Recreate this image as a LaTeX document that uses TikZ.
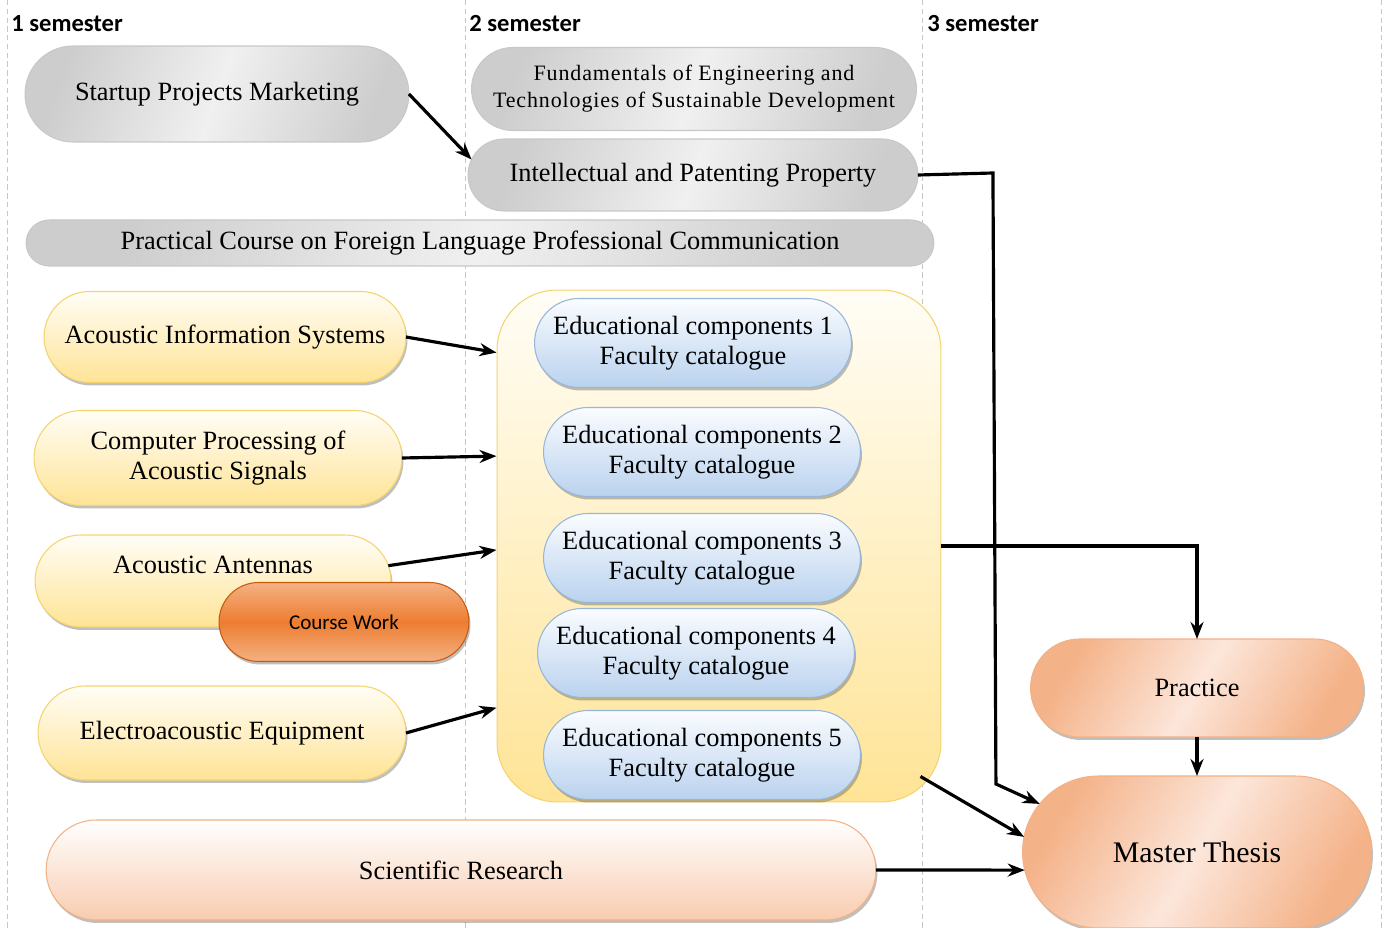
\documentclass[tikz,border=0pt]{standalone}
\usepackage{fontspec}
\setmainfont{Liberation Serif}
\newfontfamily\semfont{Carlito}
\newfontfamily\fundfont{Liberation Serif}[LetterSpace=4]
\usetikzlibrary{shapes.misc, arrows.meta, shadows}

\definecolor{grayedge}{RGB}{200,200,200}
\definecolor{graydark}{RGB}{205,205,205}
\definecolor{graylight}{RGB}{240,240,240}
\definecolor{yellowedge}{RGB}{245,212,110}
\definecolor{yellowtop}{RGB}{255,253,246}
\definecolor{yellowbot}{RGB}{255,228,150}
\definecolor{blueedge}{RGB}{150,182,220}
\definecolor{bluetop}{RGB}{250,252,255}
\definecolor{bluebot}{RGB}{186,210,238}
\definecolor{orangeedge}{RGB}{197,90,17}
\definecolor{orangemid}{RGB}{237,125,49}
\definecolor{orangelight}{RGB}{244,177,131}
\definecolor{peachedge}{RGB}{244,177,131}
\definecolor{peachdark}{RGB}{244,178,136}
\definecolor{peachlight}{RGB}{252,230,218}
\definecolor{researchbot}{RGB}{248,204,176}

\newcommand{\boxfont}{\fontsize{15pt}{17pt}\selectfont}

\tikzset{
  boxshadow/.style = {drop shadow = {shadow xshift = 0.03cm, shadow yshift = -0.06cm, opacity = 0.25, fill = black}},
  pill/.style = {rounded rectangle, outer sep = 0pt, inner sep = 2pt, align = center, font = \boxfont, line width = 0.6pt},
  graybox/.style = {pill, draw = grayedge, left color = graydark, right color = graydark, middle color = graylight, shading angle = 70},
  yellowbox/.style = {pill, boxshadow, draw = yellowedge, top color = yellowtop, bottom color = yellowbot},
  edubox/.style = {pill, boxshadow, draw = blueedge, top color = bluetop, bottom color = bluebot, minimum width = 6.48cm, minimum height = 1.78cm},
  peachbox/.style = {pill, boxshadow, draw = peachedge, left color = peachdark, right color = peachdark, middle color = peachlight, shading angle = 60},
  semlabel/.style = {anchor = west, inner sep = 0pt, font = \semfont\bfseries\fontsize{14pt}{16pt}\selectfont},
  arr/.style = {-{Stealth[length = 0.34cm, width = 0.26cm]}, line width = 1.8pt}
}

\begin{document}
\begin{tikzpicture}[x = 0.02cm, y = -0.02cm]
\path [use as bounding box, fill = white] (0,0) rectangle (1386,928);

% semester columns
\foreach \xx in {7,465,922,1381}
  \draw [gray!45, line width = 0.5pt, dash pattern = on 3pt off 2pt] (\xx,0) -- (\xx,928);
\node (sem1) at (11,24) [semlabel] {1 semester};
\node (sem2) at (469,24) [semlabel] {2 semester};
\node (sem3) at (927,24) [semlabel] {3 semester};

% common courses
\node (spm) at (217,94) [graybox, minimum width = 7.82cm, minimum height = 1.92cm] {Startup Projects Marketing};
\node (fund) at (694,89) [graybox, minimum width = 9.04cm, minimum height = 1.66cm, font = \fundfont\fontsize{12.5pt}{15.3pt}\selectfont] {Fundamentals of Engineering and\\Technologies of Sustainable Development};
\node (ipp) at (693,175) [graybox, minimum width = 9.14cm, minimum height = 1.44cm] {Intellectual and Patenting Property};
\node (pcf) at (480,243) [graybox, minimum width = 18.3cm, minimum height = 0.92cm] {Practical Course on Foreign Language Professional Communication};

% 1 semester courses
\node (ais) at (225,337) [yellowbox, minimum width = 7.38cm, minimum height = 1.82cm] {Acoustic Information Systems};
\node (cpas) at (218,458) [yellowbox, minimum width = 7.5cm, minimum height = 1.9cm] {Computer Processing of\\Acoustic Signals};
\node (aa) at (213,581) [yellowbox, minimum width = 7.26cm, minimum height = 1.84cm] {};
\node (aatext) at (213,565) [font = \boxfont] {Acoustic Antennas};
\node (cw) at (344,622) [pill, boxshadow, draw = orangeedge, top color = orangelight, bottom color = orangelight, middle color = orangemid, minimum width = 5.14cm, minimum height = 1.58cm, font = \semfont\fontsize{12pt}{14pt}\selectfont] {Course Work};
\node (eae) at (222,733) [yellowbox, minimum width = 7.5cm, minimum height = 1.88cm] {Electroacoustic Equipment};

% faculty catalogue
\node (elective) at (719,546) [rectangle, rounded corners = 1.2cm, draw = yellowedge, line width = 0.6pt, top color = yellowtop, bottom color = yellowbot, minimum width = 8.88cm, minimum height = 10.24cm] {};
\foreach \n/\x/\y in {1/693/343, 2/702/452, 3/702/558, 4/696/653, 5/702/755}
  \node (edu\n) at (\x,\y) [edubox] {Educational components \n\\Faculty catalogue};

% final stage
\node (prac) at (1197,688) [peachbox, minimum width = 6.8cm, minimum height = 1.96cm] {Practice};
\node (mt) at (1197,852) [peachbox, minimum width = 7.12cm, minimum height = 3.04cm, font = \fontsize{17pt}{20pt}\selectfont] {Master Thesis};
\node (sr) at (461,870) [pill, boxshadow, draw = peachedge, top color = white, bottom color = researchbot, minimum width = 16.74cm, minimum height = 2cm] {Scientific Research};

% connections
\draw [arr] (spm.east) -- (ipp.176);
\draw [arr] (ais.east) -- (elective.139);
\draw [arr] (cpas.east) -- (elective.158);
\draw [arr] (aa.5) -- (elective.181);
\draw [arr] (eae.east) -- (elective.216);
\draw [arr] (elective.east) -| (prac.north);
\draw [arr] (ipp.east) -- ++(75,-2) -- ++(3,611) -- (mt.163);
\coordinate (elcorner) at ([shift = {(-21,-26)}]elective.south east);
\draw [arr] (elcorner) -- (mt.175);
\draw [arr] (sr.east) -- (mt.186);
\draw [arr] (prac.south) -- (mt.north);
\end{tikzpicture}
\end{document}
